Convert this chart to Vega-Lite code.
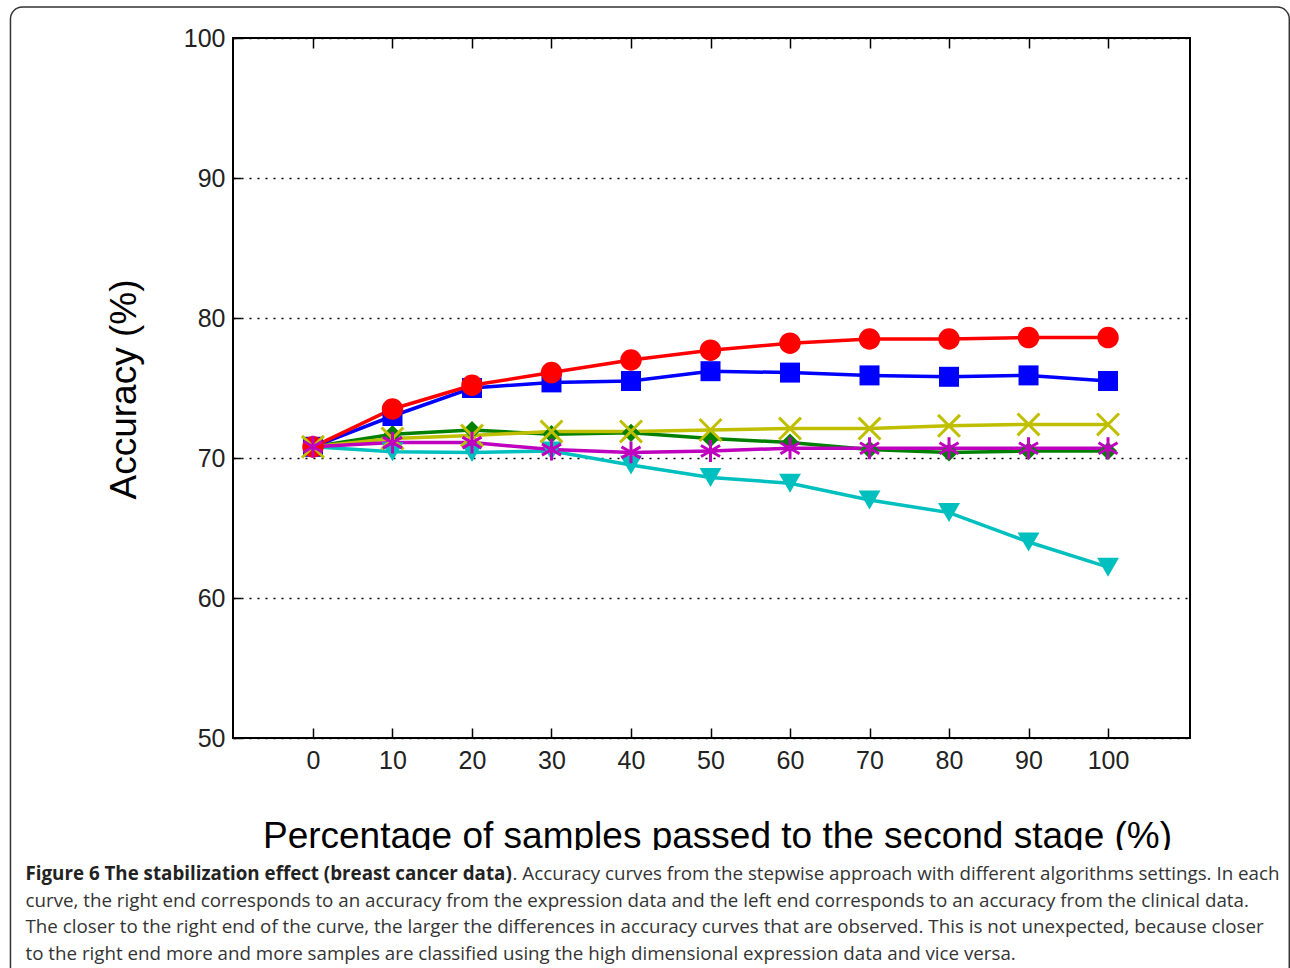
{
  "$schema": "https://vega.github.io/schema/vega-lite/v6.json",
  "width": 957,
  "height": 700,
  "autosize": {"type": "none"},
  "padding": {"left": 233, "top": 38, "right": 100, "bottom": 230},
  "background": "white",
  "config": {
    "view": {"stroke": "black", "strokeWidth": 2},
    "axis": {"labelFlush": false, "labelOverlap": false}
  },
  "datasets": {
    "acc": [
      {"s": "cyan", "x": 0, "y": 70.8}, {"s": "cyan", "x": 10, "y": 70.45}, {"s": "cyan", "x": 20, "y": 70.4}, {"s": "cyan", "x": 30, "y": 70.5}, {"s": "cyan", "x": 40, "y": 69.5}, {"s": "cyan", "x": 50, "y": 68.6}, {"s": "cyan", "x": 60, "y": 68.2}, {"s": "cyan", "x": 70, "y": 67.0}, {"s": "cyan", "x": 80, "y": 66.1}, {"s": "cyan", "x": 90, "y": 64.0}, {"s": "cyan", "x": 100, "y": 62.2},
      {"s": "green", "x": 0, "y": 70.8}, {"s": "green", "x": 10, "y": 71.7}, {"s": "green", "x": 20, "y": 72.0}, {"s": "green", "x": 30, "y": 71.7}, {"s": "green", "x": 40, "y": 71.8}, {"s": "green", "x": 50, "y": 71.4}, {"s": "green", "x": 60, "y": 71.1}, {"s": "green", "x": 70, "y": 70.6}, {"s": "green", "x": 80, "y": 70.4}, {"s": "green", "x": 90, "y": 70.5}, {"s": "green", "x": 100, "y": 70.5},
      {"s": "blue", "x": 0, "y": 70.8}, {"s": "blue", "x": 10, "y": 73.0}, {"s": "blue", "x": 20, "y": 75.0}, {"s": "blue", "x": 30, "y": 75.4}, {"s": "blue", "x": 40, "y": 75.5}, {"s": "blue", "x": 50, "y": 76.2}, {"s": "blue", "x": 60, "y": 76.1}, {"s": "blue", "x": 70, "y": 75.9}, {"s": "blue", "x": 80, "y": 75.8}, {"s": "blue", "x": 90, "y": 75.9}, {"s": "blue", "x": 100, "y": 75.5},
      {"s": "red", "x": 0, "y": 70.8}, {"s": "red", "x": 10, "y": 73.5}, {"s": "red", "x": 20, "y": 75.2}, {"s": "red", "x": 30, "y": 76.1}, {"s": "red", "x": 40, "y": 77.0}, {"s": "red", "x": 50, "y": 77.7}, {"s": "red", "x": 60, "y": 78.2}, {"s": "red", "x": 70, "y": 78.5}, {"s": "red", "x": 80, "y": 78.5}, {"s": "red", "x": 90, "y": 78.6}, {"s": "red", "x": 100, "y": 78.6},
      {"s": "yellow", "x": 0, "y": 70.8}, {"s": "yellow", "x": 10, "y": 71.4}, {"s": "yellow", "x": 20, "y": 71.6}, {"s": "yellow", "x": 30, "y": 71.9}, {"s": "yellow", "x": 40, "y": 71.9}, {"s": "yellow", "x": 50, "y": 72.0}, {"s": "yellow", "x": 60, "y": 72.1}, {"s": "yellow", "x": 70, "y": 72.1}, {"s": "yellow", "x": 80, "y": 72.3}, {"s": "yellow", "x": 90, "y": 72.4}, {"s": "yellow", "x": 100, "y": 72.4},
      {"s": "magenta", "x": 0, "y": 70.8}, {"s": "magenta", "x": 10, "y": 71.1}, {"s": "magenta", "x": 20, "y": 71.1}, {"s": "magenta", "x": 30, "y": 70.6}, {"s": "magenta", "x": 40, "y": 70.4}, {"s": "magenta", "x": 50, "y": 70.5}, {"s": "magenta", "x": 60, "y": 70.7}, {"s": "magenta", "x": 70, "y": 70.7}, {"s": "magenta", "x": 80, "y": 70.7}, {"s": "magenta", "x": 90, "y": 70.7}, {"s": "magenta", "x": 100, "y": 70.7}
    ]
  },
  "resolve": {"axis": {"x": "independent", "y": "independent"}, "scale": {"shape": "independent", "size": "independent"}},
  "layer": [
    {
      "data": {"values": [{}]},
      "mark": {"type": "rect", "fill": "white", "clip": false},
      "encoding": {
        "x": {"datum": -40, "type": "quantitative", "scale": {"domain": [-10.06, 110.31], "nice": false, "zero": false}, "axis": null},
        "x2": {"datum": 125},
        "y": {"datum": 42.0, "type": "quantitative", "scale": {"domain": [50, 100], "nice": false, "zero": false}, "axis": null},
        "y2": {"datum": 30}
      }
    },
    {
      "data": {"values": [{}]},
      "mark": {"type": "rect", "fill": null, "fillOpacity": 0, "stroke": "#333333", "strokeWidth": 1.5, "cornerRadius": 12, "clip": false},
      "encoding": {
        "x": {"datum": -38.05, "type": "quantitative", "scale": {"domain": [-10.06, 110.31], "nice": false, "zero": false}, "axis": null},
        "x2": {"datum": 122.8},
        "y": {"datum": 102.21, "type": "quantitative", "scale": {"domain": [50, 100], "nice": false, "zero": false}, "axis": null},
        "y2": {"datum": 30}
      }
    },
    {
      "data": {"values": [{}]},
      "mark": {"type": "text", "align": "left", "baseline": "alphabetic", "font": "Open Sans", "fontSize": 18.75, "fontWeight": "bold", "color": "#222222", "clip": false},
      "encoding": {
        "x": {"datum": -36.16, "type": "quantitative", "scale": {"domain": [-10.06, 110.31], "nice": false, "zero": false}, "axis": null},
        "y": {"datum": 39.86, "type": "quantitative", "scale": {"domain": [50, 100], "nice": false, "zero": false}, "axis": null},
        "text": {"value": "Figure 6 The stabilization effect (breast cancer data)"}
      }
    },
    {
      "data": {"values": [{}]},
      "mark": {"type": "text", "align": "left", "baseline": "alphabetic", "font": "Open Sans", "fontSize": 18.75, "color": "#333333", "clip": false},
      "encoding": {
        "x": {"datum": 25.1, "type": "quantitative", "scale": {"domain": [-10.06, 110.31], "nice": false, "zero": false}, "axis": null},
        "y": {"datum": 39.86, "type": "quantitative", "scale": {"domain": [50, 100], "nice": false, "zero": false}, "axis": null},
        "text": {"value": ". Accuracy curves from the stepwise approach with different algorithms settings. In each"}
      }
    },
    {
      "data": {"values": [{}]},
      "mark": {"type": "text", "align": "left", "baseline": "alphabetic", "font": "Open Sans", "fontSize": 18.75, "color": "#333333", "lineBreak": "\n", "lineHeight": 26.5, "clip": false},
      "encoding": {
        "x": {"datum": -36.16, "type": "quantitative", "scale": {"domain": [-10.06, 110.31], "nice": false, "zero": false}, "axis": null},
        "y": {"datum": 37.96, "type": "quantitative", "scale": {"domain": [50, 100], "nice": false, "zero": false}, "axis": null},
        "text": {"value": "curve, the right end corresponds to an accuracy from the expression data and the left end corresponds to an accuracy from the clinical data.\nThe closer to the right end of the curve, the larger the differences in accuracy curves that are observed. This is not unexpected, because closer\nto the right end more and more samples are classified using the high dimensional expression data and vice versa."}
      }
    },
    {
      "data": {"name": "acc"},
      "mark": {"type": "line", "strokeWidth": 3.5},
      "encoding": {
        "x": {"field": "x", "type": "quantitative", "scale": {"domain": [-10.06, 110.31], "nice": false, "zero": false},
          "axis": {"values": [0, 10, 20, 30, 40, 50, 60, 70, 80, 90, 100], "tickSize": -10, "tickColor": "black", "tickWidth": 1.5, "domain": false, "grid": false,
            "labelFont": "Liberation Sans", "labelFontSize": 25, "labelColor": "#222222", "labelPadding": 20,
            "title": "Percentage of samples passed to the second stage (%)", "titleFont": "Liberation Sans", "titleFontSize": 37, "titleFontWeight": "normal", "titleColor": "black", "titleBaseline": "alphabetic", "titleX": 484, "titleY": 109}},
        "y": {"field": "y", "type": "quantitative", "scale": {"domain": [50, 100], "nice": false, "zero": false},
          "axis": {"values": [50, 60, 70, 80, 90, 100], "tickSize": -8, "tickColor": "black", "tickWidth": 1.5, "domain": false,
            "grid": true, "gridColor": "black", "gridDash": [2, 6], "gridWidth": 1.5, "gridOpacity": 1,
            "labelFont": "Liberation Sans", "labelFontSize": 25, "labelColor": "#222222", "labelPadding": 16,
            "title": "Accuracy (%)", "titleFont": "Liberation Sans", "titleFontSize": 37, "titleFontWeight": "normal", "titleColor": "black", "titleAngle": 270, "titleBaseline": "alphabetic", "titleX": -98, "titleY": 351}},
        "color": {"field": "s", "type": "nominal", "legend": null,
          "scale": {"domain": ["cyan", "green", "blue", "red", "yellow", "magenta"], "range": ["#00bfbf", "#008000", "#0000ff", "#ff0000", "#bfbf00", "#bf00bf"]}}
      }
    },
    {
      "data": {"name": "acc"},
      "transform": [{"filter": {"field": "s", "oneOf": ["cyan", "green", "blue", "red"]}}],
      "mark": {"type": "point", "filled": true, "opacity": 1},
      "encoding": {
        "x": {"field": "x", "type": "quantitative", "scale": {"domain": [-10.06, 110.31], "nice": false, "zero": false}, "axis": null},
        "y": {"field": "y", "type": "quantitative", "scale": {"domain": [50, 100], "nice": false, "zero": false}, "axis": null},
        "color": {"field": "s", "type": "nominal", "legend": null},
        "shape": {"field": "s", "type": "nominal", "legend": null,
          "scale": {"domain": ["cyan", "green", "blue", "red"], "range": ["triangle-down", "diamond", "square", "circle"]}},
        "size": {"field": "s", "type": "nominal", "legend": null,
          "scale": {"type": "ordinal", "domain": ["cyan", "green", "blue", "red"], "range": [480, 330, 400, 460]}}
      }
    },
    {
      "data": {"name": "acc"},
      "transform": [{"filter": {"field": "s", "oneOf": ["yellow", "magenta"]}}],
      "mark": {"type": "point", "filled": false, "opacity": 1, "size": 480, "strokeWidth": 3},
      "encoding": {
        "x": {"field": "x", "type": "quantitative", "scale": {"domain": [-10.06, 110.31], "nice": false, "zero": false},
          "axis": {"orient": "top", "values": [0, 10, 20, 30, 40, 50, 60, 70, 80, 90, 100], "labels": false, "tickSize": -10, "tickColor": "black", "tickWidth": 1.5, "domain": false, "grid": false, "title": null}},
        "y": {"field": "y", "type": "quantitative", "scale": {"domain": [50, 100], "nice": false, "zero": false}, "axis": null},
        "color": {"field": "s", "type": "nominal", "legend": null},
        "shape": {"field": "s", "type": "nominal", "legend": null,
          "scale": {"domain": ["yellow", "magenta"], "range": ["M-1,-1L1,1M-1,1L1,-1", "M0,-1L0,1M-0.87,-0.5L0.87,0.5M-0.87,0.5L0.87,-0.5"]}}
      }
    }
  ]
}
